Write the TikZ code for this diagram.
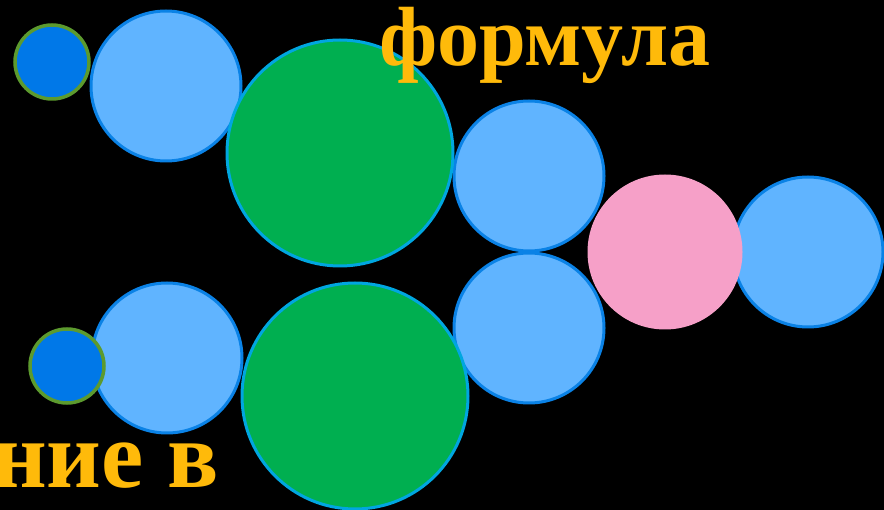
\documentclass[tikz,border=0pt]{standalone}
\usepackage{fontspec}
\setmainfont{Liberation Serif}
\definecolor{lblue}{HTML}{60B4FF}
\definecolor{lblueedge}{HTML}{0A82E6}
\definecolor{dblue}{HTML}{0078E8}
\definecolor{dblueedge}{HTML}{5C9A2E}
\definecolor{gfill}{HTML}{00AF50}
\definecolor{gedge}{HTML}{00A6E0}
\definecolor{pinkfill}{HTML}{F6A0C8}
\definecolor{gold}{HTML}{FFBA0A}
\tikzset{
  ball/.style={circle, inner sep=0pt, outer sep=0pt},
  lightball/.style={ball, fill=lblue, draw=lblueedge, line width=3pt, minimum size=150pt},
  smallball/.style={ball, fill=dblue, draw=dblueedge, line width=3.5pt, minimum size=74pt},
  greenball/.style={ball, fill=gfill, draw=gedge, line width=3pt, minimum size=226pt},
  pinkball/.style={ball, fill=pinkfill, minimum size=155pt},
  word/.style={text=gold, inner sep=0pt}
}
\begin{document}
\begin{tikzpicture}[x=1pt,y=-1pt]
\fill[black] (0,0) rectangle (884,510);
\useasboundingbox (0,0) rectangle (884,510);
% light blue circles
\node[lightball] (lb1) at (166,86) {};
\node[lightball] (lb2) at (529,176) {};
\node[lightball] (lb3) at (808,252) {};
\node[lightball] (lb4) at (529,328) {};
\node[lightball] (lb5) at (167,358) {};
% small dark blue circles
\node[smallball] (sb1) at (52,62) {};
\node[smallball] (sb2) at (67,366) {};
% green circles
\node[greenball] (g1) at (340,153) {};
\node[greenball] (g2) at (355,396) {};
% pink circle
\node[pinkball] (pk) at (665,252) {};
% texts
\node[word, font=\bfseries\fontsize{84}{84}\selectfont, anchor=base] (t1) at (545,66) {формула};
\node[word, font=\bfseries\fontsize{95}{95}\selectfont, anchor=base east] (t2) at (219,488) {ние в};
\end{tikzpicture}
\end{document}
